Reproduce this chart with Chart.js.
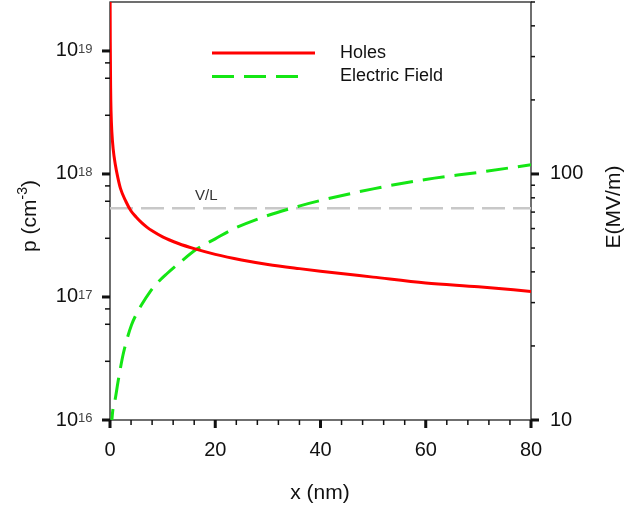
<!DOCTYPE html>
<html>
<head>
<meta charset="utf-8">
<script src="https://cdn.jsdelivr.net/npm/chart.js@4.4.0/dist/chart.umd.min.js"></script>
<style>
  html, body { margin: 0; padding: 0; background: #fff; }
</style>
</head>
<body>
<canvas id="chart" width="627" height="510"></canvas>
<script>
// Holes concentration p (cm-3) vs x (nm)
const holesX = [0, 0.05, 0.12, 0.2, 0.35, 0.6, 1.0, 1.5, 2, 3, 4, 5, 6, 7, 8, 10, 13, 16, 20, 25, 30, 36, 40, 50, 60, 70, 80];
const holesP = [5e19, 1.2e19, 5e18, 3.2e18, 2.2e18, 1.6e18, 1.2e18, 9.3e17, 7.6e17, 6.0e17, 5.0e17, 4.45e17, 4.02e17, 3.7e17, 3.45e17, 3.08e17, 2.72e17, 2.47e17, 2.22e17, 2.0e17, 1.84e17, 1.70e17, 1.62e17, 1.45e17, 1.30e17, 1.21e17, 1.11e17];

// Electric field E (MV/m) vs x (nm)
const fieldX = [0.2, 0.5, 1.0, 1.5, 1.9, 2.5, 3.2, 4.1, 5, 6, 7.6, 9, 10.8, 13.3, 16.5, 20, 23.4, 29.8, 36.1, 40, 50, 60, 70, 80];
const fieldE = [9, 10.8, 12.2, 14.2, 15.9, 18.5, 21.2, 24.4, 26.9, 29.4, 33.2, 36.1, 39.3, 43.7, 49.5, 54.5, 59.7, 67.6, 74.2, 78, 87, 95, 101.5, 109];

// V/L reference level (on the E axis)
const vlX = [0, 80];
const vlE = [72.5, 72.5];
const vlLabelX = 18.3;

const xLabels = [0, 20, 40, 60, 80];
const eLabels = [10, 100];

const FONT = "'Liberation Sans', Arial, sans-serif";

function isNice(v) {
  const e = Math.floor(Math.log10(v) + 1e-9);
  const s = v / Math.pow(10, e);
  return Math.abs(s - Math.round(s)) < 1e-6;
}
function isDecade(v) {
  const l = Math.log10(v);
  return Math.abs(l - Math.round(l)) < 1e-6;
}
// no extra room for half labels at the ends of the axes
function fixSize(prop, size) {
  return s => {
    s[prop] = size;
    s.paddingTop = 0; s.paddingBottom = 0; s.paddingLeft = 0; s.paddingRight = 0;
  };
}

// frame, tick marks, custom labels, titles and legend
const decor = {
  id: 'decor',
  beforeDatasetsDraw(chart) {
    const { ctx, chartArea: a, scales } = chart;
    ctx.save();
    ctx.strokeStyle = '#222';
    ctx.lineWidth = 1.3;
    ctx.strokeRect(a.left, a.top, a.right - a.left, a.bottom - a.top);
    ctx.fillStyle = '#111';
    scales.x.ticks.forEach(t => {
      const px = scales.x.getPixelForValue(t.value);
      const major = xLabels.includes(t.value);
      const w = major ? 3 : 1.5, len = major ? 8 : 5;
      ctx.fillRect(px - w / 2, a.bottom, w, len);
    });
    scales.y.ticks.forEach(t => {
      const py = scales.y.getPixelForValue(t.value);
      const major = isDecade(t.value);
      const w = major ? 3 : 1.5, len = major ? 8 : 5;
      ctx.fillRect(a.left - len, py - w / 2, len, w);
    });
    scales.y1.ticks.forEach(t => {
      const py = scales.y1.getPixelForValue(t.value);
      const major = isDecade(t.value);
      const w = major ? 3 : 1.5, len = major ? 8 : 4;
      ctx.fillRect(a.right, py - w / 2, len, w);
    });
    ctx.restore();
  },
  afterDatasetsDraw(chart) {
    const { ctx, chartArea: a, scales } = chart;
    ctx.save();
    ctx.fillStyle = '#111';

    // left axis labels 10^n
    scales.y.ticks.forEach(t => {
      if (!isDecade(t.value)) return;
      const py = scales.y.getPixelForValue(t.value);
      ctx.font = '20px ' + FONT;
      ctx.textAlign = 'right';
      ctx.textBaseline = 'middle';
      ctx.fillStyle = '#111';
      ctx.fillText('10', a.left - 32, py);
      ctx.font = '13px ' + FONT;
      ctx.textAlign = 'left';
      ctx.textBaseline = 'top';
      ctx.fillStyle = '#444';
      ctx.fillText(String(Math.round(Math.log10(t.value))), a.left - 32, py - 8);
    });

    // left title p (cm-3)
    ctx.save();
    ctx.translate(30, 252);
    ctx.rotate(-Math.PI / 2);
    ctx.fillStyle = '#111';
    ctx.textAlign = 'left';
    ctx.textBaseline = 'middle';
    ctx.font = '21px ' + FONT;
    let tx = 0;
    ctx.fillText('p (cm', tx, 0);
    tx += ctx.measureText('p (cm').width;
    ctx.font = '14px ' + FONT;
    ctx.fillText('-3', tx, -7);
    tx += ctx.measureText('-3').width;
    ctx.font = '21px ' + FONT;
    ctx.fillText(')', tx, 0);
    ctx.restore();

    // right title
    ctx.save();
    ctx.translate(614, 207);
    ctx.rotate(-Math.PI / 2);
    ctx.fillStyle = '#111';
    ctx.textAlign = 'center';
    ctx.textBaseline = 'middle';
    ctx.font = '21px ' + FONT;
    ctx.fillText('E(MV/m)', 0, 0);
    ctx.restore();

    // bottom title
    ctx.fillStyle = '#111';
    ctx.textAlign = 'center';
    ctx.textBaseline = 'middle';
    ctx.font = '21px ' + FONT;
    ctx.fillText('x (nm)', (a.left + a.right) / 2 - 0.5, 493);

    // V/L label
    ctx.font = '15px ' + FONT;
    ctx.fillStyle = '#333';
    ctx.fillText('V/L', scales.x.getPixelForValue(vlLabelX), scales.y1.getPixelForValue(vlE[0]) - 12);

    // legend
    const ds = chart.data.datasets;
    [0, 1].forEach((i, k) => {
      const y = 53 + k * 23.5;
      ctx.save();
      ctx.strokeStyle = ds[i].borderColor;
      ctx.lineWidth = ds[i].borderWidth;
      ctx.setLineDash(ds[i].borderDash || []);
      ctx.beginPath();
      ctx.moveTo(212, y);
      ctx.lineTo(k === 0 ? 315 : 302, y);
      ctx.stroke();
      ctx.restore();
      ctx.font = '18px ' + FONT;
      ctx.fillStyle = '#111';
      ctx.textAlign = 'left';
      ctx.textBaseline = 'middle';
      ctx.fillText(ds[i].label, 340, y);
    });
    ctx.restore();
  }
};

const chart = new Chart(document.getElementById('chart'), {
  type: 'line',
  data: {
    datasets: [
      {
        label: 'Holes',
        data: holesX.map((x, i) => ({ x: x, y: holesP[i] })),
        yAxisID: 'y',
        borderColor: '#ff0000',
        borderWidth: 3,
        pointRadius: 0,
        cubicInterpolationMode: 'monotone',
        fill: false
      },
      {
        label: 'Electric Field',
        data: fieldX.map((x, i) => ({ x: x, y: fieldE[i] })),
        yAxisID: 'y1',
        borderColor: '#14e614',
        borderWidth: 3,
        borderDash: [22, 10],
        pointRadius: 0,
        cubicInterpolationMode: 'monotone',
        fill: false
      },
      {
        label: 'V/L',
        data: vlX.map((x, i) => ({ x: x, y: vlE[i] })),
        yAxisID: 'y1',
        borderColor: '#c8c8c8',
        borderWidth: 2.5,
        borderDash: [23, 8],
        pointRadius: 0,
        fill: false
      }
    ]
  },
  options: {
    responsive: false,
    animation: false,
    devicePixelRatio: 1,
    layout: { padding: { top: 2, left: 0, right: 0, bottom: 0 } },
    plugins: { legend: { display: false }, tooltip: { enabled: false } },
    scales: {
      x: {
        type: 'linear',
        min: 0,
        max: 80,
        grid: { display: false, drawTicks: false, tickLength: 0 },
        border: { display: false },
        ticks: {
          stepSize: 4,
          autoSkip: false,
          maxRotation: 0,
          padding: 18,
          color: '#111',
          font: { size: 20, family: FONT },
          callback: v => (xLabels.includes(v) ? v : '')
        },
        afterFit: fixSize('height', 90)
      },
      y: {
        type: 'logarithmic',
        position: 'left',
        min: 1e16,
        max: 2.5e19,
        grid: { display: false, drawTicks: false, tickLength: 0 },
        border: { display: false },
        ticks: { callback: () => '' },
        afterBuildTicks: s => { s.ticks = s.ticks.filter(t => isNice(t.value)); },
        afterFit: fixSize('width', 110)
      },
      y1: {
        type: 'logarithmic',
        position: 'right',
        min: 10,
        max: 500,
        grid: { display: false, drawTicks: false, tickLength: 0 },
        border: { display: false },
        ticks: {
          padding: 19,
          color: '#111',
          font: { size: 20, family: FONT },
          callback: v => (eLabels.includes(v) ? String(v) : '')
        },
        afterBuildTicks: s => { s.ticks = s.ticks.filter(t => isNice(t.value)); },
        afterFit: fixSize('width', 96)
      }
    }
  },
  plugins: [decor]
});
</script>
</body>
</html>
